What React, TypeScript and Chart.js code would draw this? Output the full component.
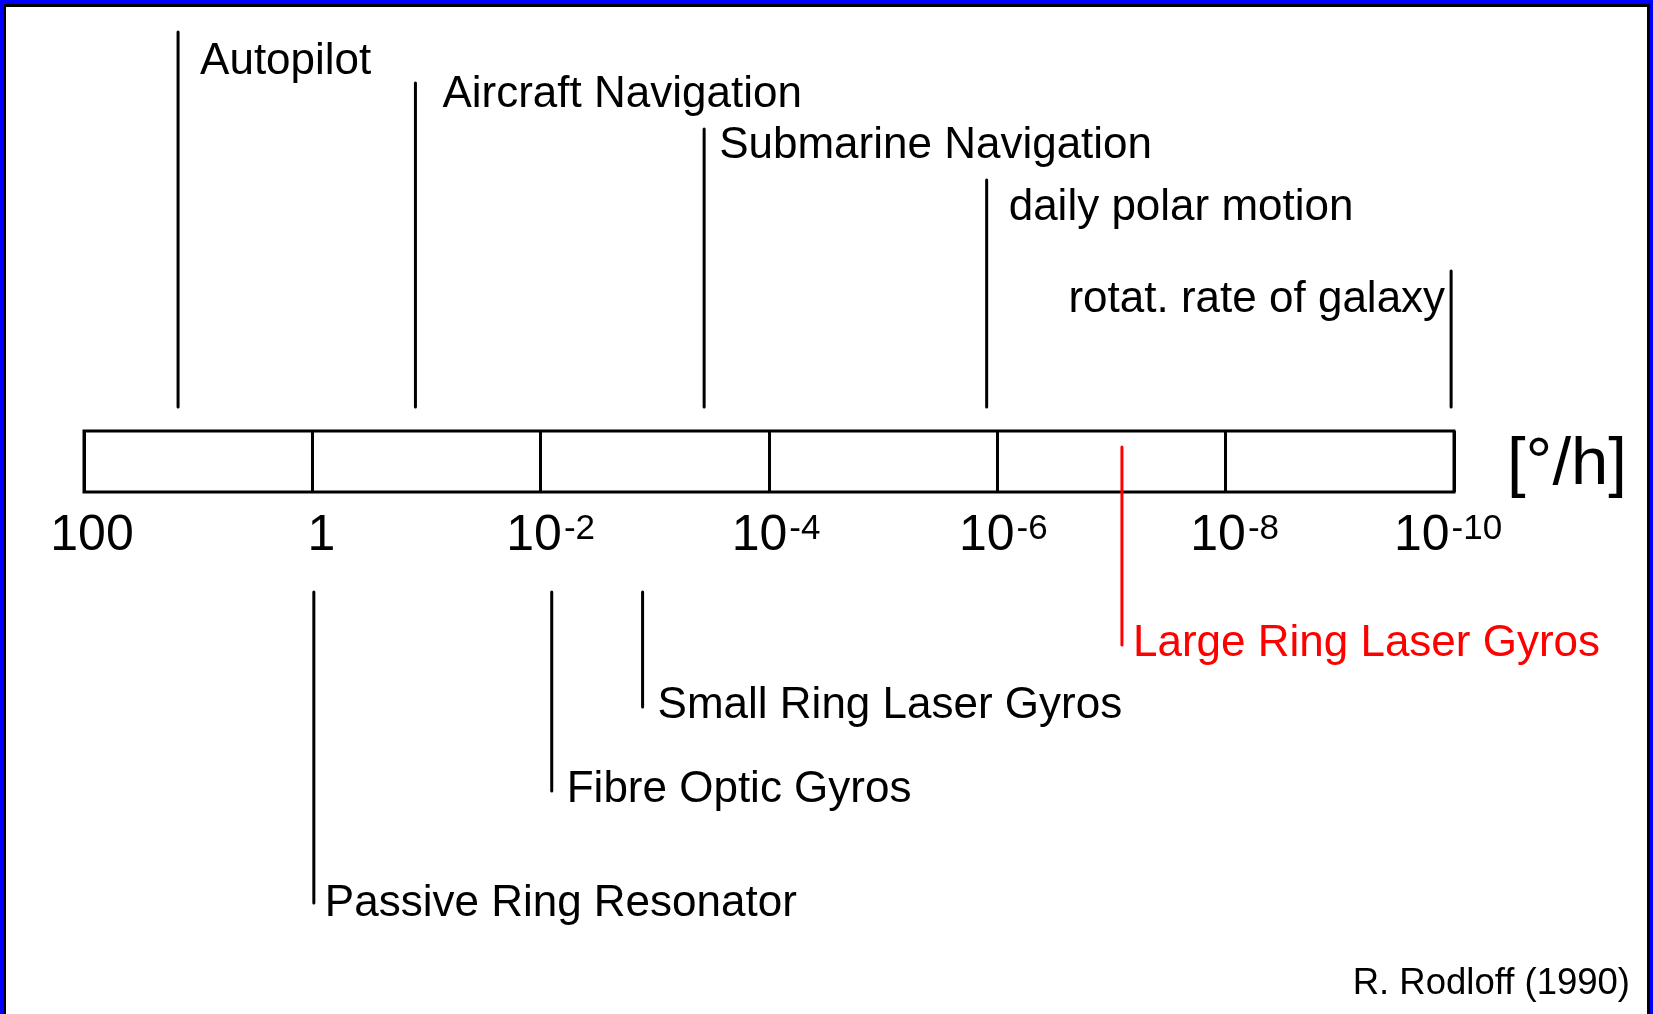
import { useEffect, useRef } from "react";
import { Chart, registerables } from "chart.js";

Chart.register(...registerables);

// ---------------- data ----------------
const aboveNames = ["Autopilot", "Aircraft Navigation", "Submarine Navigation", "daily polar motion", "rotat. rate of galaxy"];
const aboveRates = [15, 0.125, 3.7e-4, 1.24e-6, 1.06e-10]; // °/h
const belowNames = ["Passive Ring Resonator", "Fibre Optic Gyros", "Small Ring Laser Gyros", "Large Ring Laser Gyros"];
const belowRates = [0.97, 8.0e-3, 1.28e-3, 8.1e-8]; // °/h
const belowColors = ["#000000", "#000000", "#000000", "#ff0000"];
const tickValues = [1e2, 1e0, 1e-2, 1e-4, 1e-6, 1e-8, 1e-10];
const tickBase = ["100", "1", "10", "10", "10", "10", "10"];
const tickExp = ["", "", "-2", "-4", "-6", "-8", "-10"];
const unitLabel = "[°/h]";
const sourceLabel = "R. Rodloff (1990)";

// ---------------- layout (rows on the hidden y scale, px-like units) ----------------
const W = 1653;
const H = 1014;
const aboveTop = [32, 83, 129, 180, 271];
const aboveBottom = 407;
const aboveTextBaseline = [74, 107, 158, 220, 312];
const aboveTextDx = [22, 27, 15, 22, -6];
const belowTop = [592, 592, 592, 447];
const belowBottom = [903, 791, 707, 645];
const belowTextBaseline = [916, 802, 718, 656];
const belowTextDx = [11, 15, 15, 11];
const tickLabelDx = [8, 9, 9, 6, 5, 8, -7];
const FONT = '"Liberation Sans", Arial, Helvetica, sans-serif';

export default function App() {
  const ref = useRef<HTMLCanvasElement | null>(null);

  useEffect(() => {
    const canvas = ref.current;
    if (!canvas) return;

    const datasets: any[] = [];
    aboveRates.forEach((r, i) => {
      datasets.push({
        label: aboveNames[i],
        data: [
          { x: r, y: aboveTop[i] },
          { x: r, y: aboveBottom },
        ],
        borderColor: "#000000",
        borderWidth: 3,
        borderCapStyle: "round",
        pointRadius: 0,
        showLine: true,
        clip: false,
      });
    });
    belowRates.forEach((r, i) => {
      datasets.push({
        label: belowNames[i],
        data: [
          { x: r, y: belowTop[i] },
          { x: r, y: belowBottom[i] },
        ],
        borderColor: belowColors[i],
        borderWidth: 3,
        borderCapStyle: "round",
        pointRadius: 0,
        showLine: true,
        clip: false,
      });
    });

    const decor = {
      id: "decor",
      beforeDraw(chart: any) {
        const ctx = chart.ctx;
        ctx.save();
        ctx.fillStyle = "#0000ff";
        ctx.fillRect(0, 0, W, H);
        ctx.fillStyle = "#000000";
        ctx.fillRect(4, 4, 1646, H);
        ctx.fillStyle = "#ffffff";
        ctx.fillRect(6, 7, 1641, H);
        ctx.restore();
      },
      beforeDatasetsDraw(chart: any) {
        const ctx = chart.ctx;
        const a = chart.chartArea;
        ctx.save();
        ctx.strokeStyle = "#000000";
        ctx.lineWidth = 3;
        ctx.strokeRect(a.left, a.top, a.right - a.left, a.bottom - a.top);
        ctx.restore();
      },
      afterDatasetsDraw(chart: any) {
        const ctx = chart.ctx;
        const xs = chart.scales.x;
        const ys = chart.scales.y;
        ctx.save();
        ctx.textBaseline = "alphabetic";
        // marker labels above
        ctx.font = `44px ${FONT}`;
        ctx.fillStyle = "#000000";
        aboveNames.forEach((name, i) => {
          const px = xs.getPixelForValue(aboveRates[i]);
          const py = ys.getPixelForValue(aboveTextBaseline[i]);
          const dx = aboveTextDx[i];
          ctx.textAlign = dx < 0 ? "right" : "left";
          ctx.fillText(name, px + dx, py);
        });
        // marker labels below
        belowNames.forEach((name, i) => {
          const px = xs.getPixelForValue(belowRates[i]);
          const py = ys.getPixelForValue(belowTextBaseline[i]);
          ctx.fillStyle = belowColors[i];
          ctx.textAlign = "left";
          ctx.fillText(name, px + belowTextDx[i], py);
        });
        // tick labels with superscripts
        ctx.fillStyle = "#000000";
        ctx.textAlign = "left";
        const baseY = ys.getPixelForValue(549.5);
        const supY = ys.getPixelForValue(539);
        tickValues.forEach((v, i) => {
          const px = xs.getPixelForValue(v);
          ctx.font = `50px ${FONT}`;
          const wb = ctx.measureText(tickBase[i]).width;
          ctx.font = `35px ${FONT}`;
          const we = tickExp[i] ? ctx.measureText(tickExp[i]).width : 0;
          const start = px - (wb + we) / 2 + tickLabelDx[i];
          ctx.font = `50px ${FONT}`;
          ctx.fillText(tickBase[i], start, baseY);
          if (tickExp[i]) {
            ctx.font = `35px ${FONT}`;
            ctx.fillText(tickExp[i], start + wb + 2, supY);
          }
        });
        // unit
        ctx.font = `67px ${FONT}`;
        ctx.fillText(unitLabel, 1507, ys.getPixelForValue(484));
        // source
        ctx.font = `36.5px ${FONT}`;
        ctx.textAlign = "right";
        ctx.fillText(sourceLabel, 1630, ys.getPixelForValue(994));
        ctx.restore();
      },
    };

    const chart = new Chart(canvas, {
      type: "scatter",
      data: { datasets },
      options: {
        responsive: false,
        devicePixelRatio: 1,
        animation: false,
        events: [],
        layout: { padding: { left: 84, right: W - 1454, top: 431, bottom: H - 492 } },
        plugins: { legend: { display: false }, tooltip: { enabled: false } },
        scales: {
          x: {
            type: "logarithmic",
            min: 1e-10,
            max: 1e2,
            reverse: true,
            afterBuildTicks: (s: any) => {
              s.ticks = tickValues.map((v) => ({ value: v }));
            },
            ticks: { display: false },
            grid: { color: "#000000", lineWidth: 3, drawTicks: false },
            border: { display: false },
          },
          y: {
            type: "linear",
            display: false,
            min: 431,
            max: 492,
            reverse: true,
          },
        },
      },
      plugins: [decor],
    } as any);

    return () => chart.destroy();
  }, []);

  return (
    <div style={{ position: "absolute", left: 0, top: 0, width: W, height: H }}>
      <canvas ref={ref} width={W} height={H} style={{ display: "block" }} />
    </div>
  );
}
